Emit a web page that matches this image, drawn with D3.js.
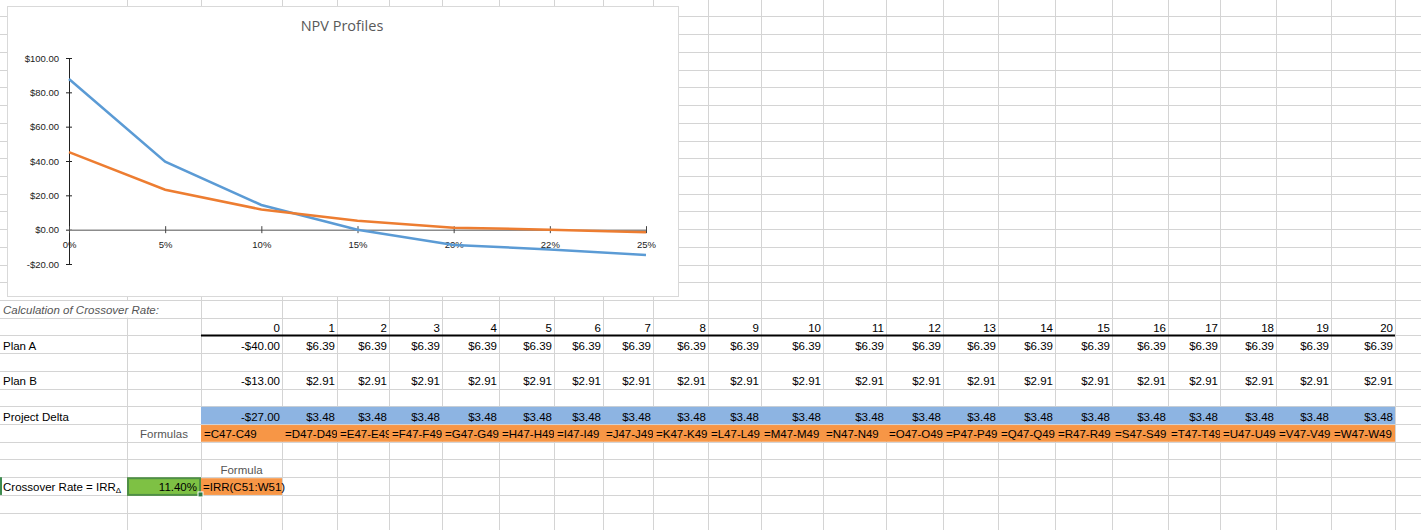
<!DOCTYPE html>
<html>
<head>
<meta charset="utf-8">
<script src="https://cdn.jsdelivr.net/npm/d3@7"></script>
<style>
  html, body { margin: 0; padding: 0; background: #fff; }
  svg { display: block; }
  .cell { font-family: "Liberation Sans", Arial, sans-serif; font-size: 11.5px; fill: #000; }
</style>
</head>
<body>
<div id="canvas"></div>
<script>
// chart data
const rates = ["0%", "5%", "10%", "15%", "20%", "22%", "25%"];
const npvA = [87.80, 39.63, 14.40, 0.00, -8.88, -11.50, -14.73];
const npvB = [45.20, 23.27, 11.77, 5.21, 1.17, -0.02, -1.49];
const yTicks = [100, 80, 60, 40, 20, 0, -20];

// table data
const periods = [0, 1, 2, 3, 4, 5, 6, 7, 8, 9, 10, 11, 12, 13, 14, 15, 16, 17, 18, 19, 20];
const planA = [-40.00, 6.39, 6.39, 6.39, 6.39, 6.39, 6.39, 6.39, 6.39, 6.39, 6.39, 6.39, 6.39, 6.39, 6.39, 6.39, 6.39, 6.39, 6.39, 6.39, 6.39];
const planB = [-13.00, 2.91, 2.91, 2.91, 2.91, 2.91, 2.91, 2.91, 2.91, 2.91, 2.91, 2.91, 2.91, 2.91, 2.91, 2.91, 2.91, 2.91, 2.91, 2.91, 2.91];
const delta = [-27.00, 3.48, 3.48, 3.48, 3.48, 3.48, 3.48, 3.48, 3.48, 3.48, 3.48, 3.48, 3.48, 3.48, 3.48, 3.48, 3.48, 3.48, 3.48, 3.48, 3.48];
const formulas = ["=C47-C49", "=D47-D49", "=E47-E49", "=F47-F49", "=G47-G49", "=H47-H49", "=I47-I49", "=J47-J49", "=K47-K49", "=L47-L49", "=M47-M49", "=N47-N49", "=O47-O49", "=P47-P49", "=Q47-Q49", "=R47-R49", "=S47-S49", "=T47-T49", "=U47-U49", "=V47-V49", "=W47-W49"];
const crossover = "11.40%";
const crossoverFormula = "=IRR(C51:W51)";

const w = 1421, h = 530;

// sheet layout
const colEdges = [0, 127, 201, 282, 337, 389, 442, 499, 554, 603, 653, 708, 761, 823, 886, 943, 998, 1055, 1112, 1168, 1220, 1276, 1331, 1395, 1421];
const rowH = 17.72;
const rowY = (k) => 300 + rowH * k;   // k = 0 is the "Calculation of..." row

let svg = d3.select("#canvas")
            .append("svg")
                .attr("width", w)
                .attr("height", h)
                .attr("viewBox", [0, 0, w, h]);

const colLeft = d3.scaleOrdinal().domain(periods).range(colEdges.slice(2, 23));
const colRight = d3.scaleOrdinal().domain(periods).range(colEdges.slice(3, 24));

const money = (v) => (v < 0 ? "-$" : "$") + Math.abs(v).toFixed(2);

// grid
let grid = svg.append("g").attr("stroke", "#d4d4d4").attr("stroke-width", 1);
d3.range(-17, 14).forEach(k => {
  grid.append("line").attr("x1", 0).attr("x2", w)
      .attr("y1", Math.round(rowY(k)) + 0.5).attr("y2", Math.round(rowY(k)) + 0.5);
});
colEdges.slice(1, 24).forEach(x => {
  grid.append("line").attr("x1", x + 0.5).attr("x2", x + 0.5).attr("y1", 0).attr("y2", h);
});

// fills
svg.append("rect").attr("x", 0).attr("y", rowY(0) + 1).attr("width", 200).attr("height", rowH - 1).attr("fill", "#fff");

svg.append("rect").attr("x", colLeft(0)).attr("y", rowY(6) + 0.5)
   .attr("width", colRight(20) - colLeft(0)).attr("height", rowH - 0.5).attr("fill", "#8db4e2");
svg.append("rect").attr("x", colLeft(0)).attr("y", rowY(7) + 1)
   .attr("width", colRight(20) - colLeft(0)).attr("height", rowH - 1).attr("fill", "#f79646");
svg.append("rect").attr("x", colLeft(0)).attr("y", rowY(10) + 1)
   .attr("width", colRight(0) - colLeft(0)).attr("height", rowH - 1).attr("fill", "#f79646");

// thick underline under the period header
svg.append("line").attr("x1", colLeft(0)).attr("x2", colRight(20))
   .attr("y1", rowY(2)).attr("y2", rowY(2)).attr("stroke", "#000").attr("stroke-width", 2);

const base = (k) => rowY(k + 1) - 3.5;

let t = svg.append("g").attr("class", "cell");

t.append("text").attr("x", 3).attr("y", base(0)).attr("font-style", "italic").attr("fill", "#555")
  .text("Calculation of Crossover Rate:");

t.selectAll(".hdr").data(periods).enter().append("text")
  .attr("x", d => colRight(d) - 2).attr("y", base(1)).attr("text-anchor", "end").text(d => d);

t.append("text").attr("x", 3).attr("y", base(2)).text("Plan A");
t.selectAll(".pa").data(planA).enter().append("text")
  .attr("x", (d, i) => colRight(periods[i]) - 2).attr("y", base(2)).attr("text-anchor", "end").text(money);

t.append("text").attr("x", 3).attr("y", base(4)).text("Plan B");
t.selectAll(".pb").data(planB).enter().append("text")
  .attr("x", (d, i) => colRight(periods[i]) - 2).attr("y", base(4)).attr("text-anchor", "end").text(money);

t.append("text").attr("x", 3).attr("y", base(6)).text("Project Delta");
t.selectAll(".pd").data(delta).enter().append("text")
  .attr("x", (d, i) => colRight(periods[i]) - 2).attr("y", base(6)).attr("text-anchor", "end").text(money);

t.append("text").attr("x", (colEdges[1] + colEdges[2]) / 2).attr("y", base(7))
  .attr("text-anchor", "middle").attr("fill", "#555").text("Formulas");

// formula cells, clipped at their own right edge
let defs = svg.append("defs");
periods.forEach(p => {
  defs.append("clipPath").attr("id", "clip" + p)
    .append("rect").attr("x", colLeft(p)).attr("y", rowY(7))
    .attr("width", colRight(p) - colLeft(p)).attr("height", rowH);
});
t.selectAll(".fm").data(formulas).enter().append("text")
  .attr("x", (d, i) => colLeft(periods[i]) + 3).attr("y", base(7))
  .attr("clip-path", (d, i) => "url(#clip" + periods[i] + ")").text(d => d);

t.append("text").attr("x", (colLeft(0) + colRight(0)) / 2).attr("y", base(9))
  .attr("text-anchor", "middle").attr("fill", "#555").text("Formula");

let lbl = t.append("text").attr("x", 3).attr("y", base(10)).text("Crossover Rate = IRR");
lbl.append("tspan").attr("font-size", "8px").attr("dy", 2).text("Δ");

// selected green cell
svg.append("rect").attr("x", colEdges[1] + 1).attr("y", rowY(10) + 1)
   .attr("width", colEdges[2] - colEdges[1] - 2).attr("height", rowH - 1)
   .attr("fill", "#7ec144").attr("stroke", "#4f8f45").attr("stroke-width", 2);
svg.append("rect").attr("x", colEdges[2] - 3).attr("y", rowY(11) - 3).attr("width", 5).attr("height", 5)
   .attr("fill", "#2f7d46").attr("stroke", "#fff").attr("stroke-width", 1);
svg.append("text").attr("class", "cell").attr("x", colEdges[2] - 4).attr("y", base(10))
   .attr("text-anchor", "end").text(crossover);
svg.append("text").attr("class", "cell").attr("x", colLeft(0) + 2).attr("y", base(10)).text(crossoverFormula);
svg.append("rect").attr("x", 0).attr("y", rowY(10)).attr("width", 2).attr("height", rowH).attr("fill", "#3d8b4f");

// ---- chart ----
let chart = svg.append("g");
chart.append("rect").attr("x", 7.5).attr("y", 6.5).attr("width", 671).attr("height", 290)
     .attr("fill", "#fff").attr("stroke", "#d9d9d9");

chart.append("text").attr("x", 342).attr("y", 31).attr("text-anchor", "middle")
     .attr("font-family", "'Open Sans', sans-serif").attr("font-size", "14.5px").attr("fill", "#595959")
     .text("NPV Profiles");

let x = d3.scalePoint().domain(rates).range([69, 646]);
let y = d3.scaleLinear().domain([-20, 100]).range([264, 58]);

let yAxis = d3.axisLeft(y).tickValues(yTicks).tickSize(0).tickPadding(10).tickFormat(money);
let gY = chart.append("g").attr("transform", "translate(69,0)").call(yAxis);
gY.select(".domain").attr("stroke", "#222").attr("stroke-width", 1);
gY.selectAll(".tick").append("line").attr("x1", -3).attr("x2", 3).attr("stroke", "#222");
gY.selectAll("text").attr("font-family", "'Liberation Sans', Arial, sans-serif")
  .attr("font-size", "9.5px").attr("fill", "#222");

let xAxis = d3.axisBottom(x).tickSize(0).tickPadding(0);
let gX = chart.append("g").attr("transform", "translate(0," + y(0) + ")").call(xAxis);
gX.select(".domain").attr("stroke", "#8c8c8c").attr("stroke-width", 1.5);
gX.selectAll(".tick").append("line").attr("y1", -3.5).attr("y2", 3.5).attr("stroke", "#444");
gX.selectAll("text").attr("y", 18).attr("dy", 0)
  .attr("font-family", "'Liberation Sans', Arial, sans-serif")
  .attr("font-size", "9.5px").attr("fill", "#222");

let line = d3.line()
  .x((d, i) => x(rates[i]))
  .y(d => y(d));

chart.append("path").datum(npvA).attr("d", line)
  .attr("fill", "none").attr("stroke", "#5b9bd5").attr("stroke-width", 2.5);
chart.append("path").datum(npvB).attr("d", line)
  .attr("fill", "none").attr("stroke", "#ed7d31").attr("stroke-width", 2.5);
</script>
</body>
</html>
